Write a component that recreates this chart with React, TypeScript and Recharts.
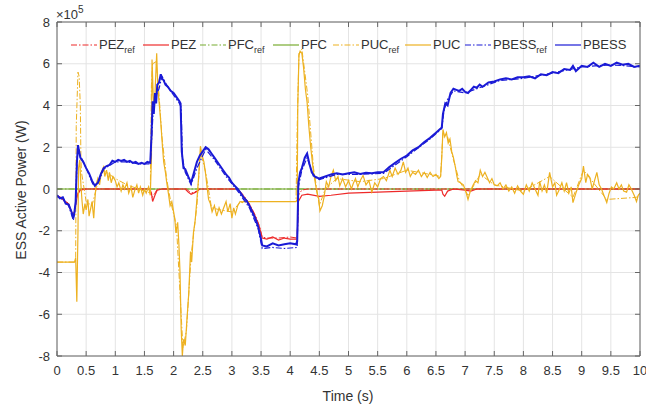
import React from 'react';
import { LineChart, Line, XAxis, YAxis, CartesianGrid } from 'recharts';

type Pt = [number, number];

// time in s, power in 1e5 W
const xTicks = [0, 0.5, 1, 1.5, 2, 2.5, 3, 3.5, 4, 4.5, 5, 5.5, 6, 6.5, 7, 7.5, 8, 8.5, 9, 9.5, 10];
const yTicks = [-8, -6, -4, -2, 0, 2, 4, 6, 8];

const pfcRef: Pt[] = [[0, 0], [10, 0]];
const pfc: Pt[] = [[0, 0], [10, 0]];

const pezRef: Pt[] = [
  [0, -0.3], [0.1, -0.45], [0.2, -0.7], [0.28, -1.3], [0.32, -0.7], [0.35, -0.2], [0.4, 0], [1.6, 0],
  [1.63, -0.4], [1.68, -0.2], [1.72, 0], [2.22, 0], [2.3, -0.2], [2.4, -0.1], [2.45, 0], [3.1, 0],
  [3.2, -0.3], [3.3, -0.7], [3.4, -1.25], [3.47, -1.75], [3.52, -2.3], [3.6, -2.35], [3.8, -2.35],
  [4.0, -2.3], [4.12, -2.35], [4.14, -0.3], [4.2, -0.05], [4.3, 0], [10, 0],
];

const pez: Pt[] = [
  [0, -0.35], [0.1, -0.5], [0.2, -0.75], [0.28, -1.35], [0.32, -0.8], [0.35, -0.3], [0.4, -0.05], [0.5, 0],
  [1.58, 0], [1.62, -0.2], [1.64, -0.6], [1.68, -0.3], [1.72, -0.05], [1.8, 0], [2.2, 0], [2.25, -0.15],
  [2.3, -0.25], [2.38, -0.15], [2.45, 0], [3.1, 0], [3.2, -0.35], [3.3, -0.75], [3.4, -1.3], [3.47, -1.8],
  [3.52, -2.35], [3.6, -2.4], [3.7, -2.3], [3.8, -2.45], [3.9, -2.35], [4.0, -2.4], [4.12, -2.4],
  [4.14, -0.6], [4.2, -0.3], [4.3, -0.25], [4.5, -0.35], [4.7, -0.3], [5.0, -0.2], [5.5, -0.15],
  [6.0, -0.1], [6.5, -0.05], [6.6, -0.05], [6.62, -0.25], [6.65, -0.35], [6.7, -0.1], [6.8, 0],
  [7.0, -0.05], [7.1, -0.1], [7.2, 0], [10, 0],
];

const pucRef: Pt[] = [
  [0, -3.5], [0.32, -3.5], [0.33, 3.0], [0.36, 5.6], [0.38, 5.4], [0.4, 4.0], [0.41, 1.5], [0.42, 0.8],
  [0.5, -0.6], [0.6, -0.8], [0.7, 0.3], [0.8, 0.9], [1.0, 0.5], [1.2, 0.2], [1.4, 0.0], [1.6, -0.2],
  [1.62, 5.0], [1.64, 6.0], [1.7, 6.1], [1.75, 4.5], [1.8, 2.5], [1.88, 0.5], [1.95, -0.6], [2.05, -1.8],
  [2.12, -5.5], [2.16, -7.6], [2.22, -6.8], [2.3, -3.2], [2.4, -0.8], [2.46, 1.8], [2.55, 0.8],
  [2.65, -0.9], [2.8, -1.0], [3.0, -1.1], [3.15, -0.6], [4.1, -0.6], [4.12, 3.0], [4.15, 6.5],
  [4.2, 6.7], [4.3, 4.5], [4.4, 1.0], [4.5, -0.8], [4.6, 0.0], [4.8, 0.5], [5.2, 0.35], [5.6, 0.5],
  [6.0, 0.9], [6.4, 0.7], [6.58, 0.6], [6.62, 2.7], [6.7, 2.5], [6.8, 1.4], [6.9, 0.4], [7.05, -0.3],
  [7.26, 0.7], [7.5, 0.2], [8.0, -0.1], [8.45, 0.6], [8.85, -0.4], [9.03, 0.9], [9.43, -0.5],
  [9.94, -0.4], [10, -0.2],
];

const puc: Pt[] = [
  [0, -3.5], [0.3, -3.5], [0.32, -3.3], [0.34, -5.4], [0.36, -2.0], [0.37, 1.0], [0.39, 1.4], [0.41, 0.2],
  [0.43, -0.6], [0.45, -1.2], [0.48, -0.7], [0.5, -1.0], [0.53, -0.5], [0.55, -1.3], [0.58, -0.9],
  [0.6, -0.6], [0.63, -1.4], [0.65, -0.5], [0.67, 0.2], [0.7, 0.5], [0.73, 0.2], [0.76, 0.8], [0.8, 1.05],
  [0.82, 0.6], [0.85, 0.9], [0.88, 0.4], [0.9, 0.8], [0.93, 0.3], [0.96, 0.6], [1.0, 0.4], [1.03, 0.1],
  [1.06, 0.3], [1.1, -0.1], [1.13, 0.2], [1.16, 0.0], [1.2, 0.3], [1.23, -0.2], [1.27, 0.1], [1.3, -0.4],
  [1.33, -0.1], [1.37, 0.2], [1.4, -0.2], [1.43, 0.1], [1.47, -0.3], [1.5, 0.0], [1.53, -0.2],
  [1.57, 0.1], [1.6, -0.3], [1.62, 1.5], [1.63, 6.2], [1.65, 4.5], [1.67, 3.8], [1.69, 5.2], [1.71, 6.5],
  [1.73, 4.8], [1.75, 4.2], [1.78, 3.2], [1.81, 2.0], [1.83, 1.3], [1.86, 0.8], [1.88, 0.35],
  [1.91, -0.2], [1.94, -0.8], [1.97, -0.6], [2.0, -1.1], [2.02, -1.4], [2.04, -2.1], [2.07, -1.6],
  [2.09, -2.6], [2.11, -4.0], [2.13, -6.7], [2.15, -8.0], [2.17, -7.2], [2.2, -7.5], [2.23, -6.2],
  [2.26, -5.0], [2.29, -3.0], [2.31, -3.5], [2.34, -2.1], [2.37, -1.5], [2.4, -0.5], [2.43, 0.6],
  [2.46, 2.05], [2.49, 1.6], [2.52, 1.3], [2.55, 0.7], [2.57, 0.2], [2.6, -0.5], [2.63, -0.7],
  [2.66, -1.1], [2.7, -0.8], [2.74, -1.3], [2.78, -0.9], [2.82, -1.2], [2.86, -0.9], [2.9, -0.6],
  [2.93, -1.1], [2.97, -0.7], [3.0, -1.4], [3.03, -0.9], [3.06, -1.2], [3.1, -0.8], [3.14, -0.6],
  [3.18, -0.65], [3.2, -0.6], [4.1, -0.6], [4.12, -0.5], [4.13, 4.0], [4.15, 6.4], [4.17, 6.6],
  [4.2, 6.5], [4.23, 5.8], [4.26, 4.8], [4.29, 4.15], [4.32, 3.0], [4.35, 2.05], [4.38, 1.3], [4.4, 0.8],
  [4.43, 0.3], [4.46, -0.2], [4.49, -0.5], [4.51, -1.05], [4.55, -0.8], [4.58, -0.4], [4.62, 0.35],
  [4.66, 0.1], [4.7, 0.6], [4.74, 0.9], [4.78, 0.4], [4.82, 0.6], [4.85, 0.15], [4.9, 0.5], [4.95, 0.1],
  [5.0, 0.4], [5.05, 0.0], [5.08, 0.25], [5.12, 0.5], [5.16, 0.1], [5.2, 0.4], [5.25, 0.65], [5.3, 0.2],
  [5.35, 0.4], [5.4, -0.15], [5.45, 0.3], [5.5, 0.1], [5.55, 0.5], [5.6, 0.6], [5.65, 0.4], [5.71, 0.9],
  [5.75, 0.6], [5.8, 1.0], [5.85, 0.7], [5.9, 0.9], [5.94, 1.3], [5.98, 0.8], [6.02, 1.0], [6.06, 0.6],
  [6.1, 0.8], [6.15, 0.7], [6.2, 0.9], [6.25, 0.6], [6.3, 0.8], [6.35, 0.55], [6.4, 0.8], [6.45, 0.6],
  [6.5, 0.7], [6.55, 0.5], [6.58, 0.6], [6.6, 1.5], [6.62, 2.85], [6.65, 2.5], [6.68, 2.7], [6.71, 2.2],
  [6.74, 2.4], [6.77, 1.8], [6.8, 1.5], [6.83, 1.1], [6.86, 0.6], [6.88, 0.35], [6.92, 0.3], [6.97, 0.2],
  [7.01, -0.1], [7.05, -0.5], [7.09, -0.1], [7.14, 0.2], [7.18, 0.4], [7.22, 0.3], [7.26, 0.9],
  [7.3, 0.6], [7.34, 0.8], [7.38, 0.55], [7.42, 0.3], [7.46, 0.5], [7.5, 0.2], [7.55, 0.15], [7.6, 0.3],
  [7.65, 0.0], [7.7, 0.2], [7.75, -0.1], [7.8, 0.1], [7.85, -0.2], [7.9, 0.15], [7.95, -0.1],
  [8.0, -0.25], [8.05, 0.2], [8.1, -0.1], [8.15, 0.3], [8.2, 0.0], [8.25, -0.3], [8.28, 0.35],
  [8.32, -0.1], [8.36, 0.2], [8.4, -0.2], [8.45, 0.8], [8.5, 0.1], [8.54, 0.3], [8.57, -0.3], [8.62, 0.0],
  [8.66, 0.3], [8.7, -0.1], [8.74, 0.3], [8.78, -0.2], [8.82, 0.1], [8.85, -0.65], [8.9, -0.2],
  [8.95, 0.2], [9.0, 0.5], [9.03, 1.1], [9.07, 0.3], [9.1, 0.7], [9.14, 0.55], [9.18, 0.0], [9.22, 0.4],
  [9.26, 0.8], [9.3, 0.2], [9.34, 0.0], [9.38, -0.3], [9.43, -0.65], [9.47, -0.2], [9.51, 0.1],
  [9.55, 0.0], [9.6, 0.3], [9.64, 0.0], [9.68, 0.2], [9.72, -0.1], [9.77, -0.15], [9.81, 0.2],
  [9.85, 0.0], [9.9, -0.3], [9.94, -0.6], [9.97, -0.3], [10, -0.2],
];

const pbessRef: Pt[] = [
  [0, -0.35], [0.1, -0.5], [0.2, -0.8], [0.28, -1.5], [0.32, -0.8], [0.34, 1.0], [0.36, 2.0], [0.4, 1.6],
  [0.5, 1.0], [0.62, 0.2], [0.7, 0.25], [0.8, 0.95], [1.0, 1.3], [1.2, 1.3], [1.4, 1.2], [1.6, 1.2],
  [1.62, 2.2], [1.65, 3.8], [1.7, 4.5], [1.75, 4.8], [1.8, 5.4], [1.9, 4.9], [2.0, 4.5], [2.1, 4.1],
  [2.13, 3.9], [2.15, 1.5], [2.2, 0.8], [2.3, 0.2], [2.4, 1.0], [2.55, 1.9], [2.7, 1.4], [2.9, 0.6],
  [3.1, -0.1], [3.3, -0.9], [3.45, -1.9], [3.52, -2.85], [3.7, -2.8], [3.9, -2.85], [4.12, -2.8],
  [4.14, 0.1], [4.2, 0.9], [4.29, 1.5], [4.4, 0.6], [4.5, 0.45], [4.8, 0.7], [5.2, 0.7], [5.6, 0.75],
  [6.0, 1.55], [6.4, 2.4], [6.6, 2.9], [6.64, 3.8], [6.7, 4.3], [6.8, 4.7], [7.0, 4.6], [7.3, 4.9],
  [7.6, 5.2], [8.0, 5.3], [8.5, 5.55], [9.0, 5.85], [9.5, 5.95], [10, 5.85],
];

const pbess: Pt[] = [
  [0, -0.3], [0.05, -0.45], [0.1, -0.4], [0.15, -0.7], [0.2, -0.75], [0.25, -1.1], [0.28, -1.4],
  [0.3, -1.1], [0.32, -0.6], [0.34, 1.2], [0.36, 2.1], [0.38, 1.8], [0.4, 1.5], [0.45, 1.3], [0.5, 1.0],
  [0.55, 0.75], [0.6, 0.4], [0.65, 0.15], [0.7, 0.3], [0.75, 0.7], [0.8, 1.0], [0.85, 1.1], [0.9, 1.15],
  [0.95, 1.35], [1.0, 1.3], [1.05, 1.4], [1.1, 1.35], [1.15, 1.4], [1.2, 1.3], [1.25, 1.35], [1.3, 1.25],
  [1.35, 1.3], [1.4, 1.2], [1.45, 1.25], [1.5, 1.2], [1.55, 1.3], [1.6, 1.25], [1.62, 2.5], [1.64, 4.2],
  [1.66, 3.6], [1.68, 4.6], [1.7, 4.1], [1.72, 5.0], [1.75, 5.1], [1.78, 5.5], [1.8, 5.3], [1.83, 5.2],
  [1.86, 5.0], [1.9, 4.9], [1.95, 4.7], [2.0, 4.6], [2.05, 4.4], [2.1, 4.2], [2.12, 4.1], [2.14, 1.8],
  [2.17, 1.0], [2.2, 0.95], [2.25, 0.6], [2.3, 0.3], [2.35, 0.8], [2.4, 1.3], [2.45, 1.6], [2.5, 1.8],
  [2.55, 2.0], [2.6, 1.9], [2.65, 1.7], [2.7, 1.5], [2.75, 1.3], [2.8, 1.1], [2.85, 0.9], [2.9, 0.7],
  [2.95, 0.55], [3.0, 0.3], [3.05, 0.15], [3.1, 0.0], [3.15, -0.2], [3.2, -0.4], [3.25, -0.55],
  [3.3, -0.8], [3.35, -1.1], [3.4, -1.4], [3.45, -1.8], [3.5, -2.4], [3.52, -2.7], [3.6, -2.75],
  [3.7, -2.6], [3.8, -2.7], [3.9, -2.65], [4.0, -2.6], [4.1, -2.65], [4.12, -2.5], [4.14, 0.3],
  [4.17, 0.8], [4.2, 1.0], [4.25, 1.5], [4.29, 1.7], [4.33, 1.2], [4.37, 0.8], [4.42, 0.6], [4.5, 0.5],
  [4.6, 0.6], [4.7, 0.7], [4.8, 0.75], [4.9, 0.7], [5.0, 0.75], [5.1, 0.8], [5.2, 0.72], [5.3, 0.78],
  [5.4, 0.75], [5.5, 0.8], [5.6, 0.8], [5.7, 1.05], [5.8, 1.25], [5.9, 1.45], [6.0, 1.6], [6.1, 1.85],
  [6.2, 2.0], [6.3, 2.25], [6.4, 2.45], [6.5, 2.7], [6.6, 2.95], [6.62, 3.6], [6.66, 4.1], [6.7, 4.0],
  [6.75, 4.6], [6.8, 4.8], [6.85, 4.75], [6.9, 4.7], [6.95, 4.8], [7.0, 4.65], [7.05, 4.6], [7.1, 4.75],
  [7.15, 4.9], [7.2, 4.85], [7.25, 5.0], [7.3, 4.9], [7.4, 5.1], [7.5, 5.15], [7.6, 5.25], [7.7, 5.3],
  [7.8, 5.25], [7.9, 5.35], [8.0, 5.35], [8.1, 5.4], [8.2, 5.3], [8.3, 5.5], [8.4, 5.45], [8.5, 5.6],
  [8.6, 5.55], [8.7, 5.75], [8.8, 5.7], [8.85, 5.9], [8.9, 5.65], [9.0, 5.9], [9.1, 5.85], [9.2, 6.05],
  [9.3, 5.85], [9.4, 6.0], [9.5, 5.9], [9.6, 6.05], [9.7, 5.95], [9.8, 6.0], [9.9, 5.85], [10, 5.9],
];

const RED = '#ee2a2a';
const GREEN = '#77ac30';
const ORANGE = '#edb120';
const BLUE = '#1a1ad6';
const AXIS = '#666';
const TEXT = '#333';
const FONT = '"Liberation Sans", Arial, Helvetica, sans-serif';
const DASHDOT = '6 2 1.5 2';

const rows = (pts: Pt[]) => pts.map(([t, v]) => ({ t, v }));

const series = [
  { key: 'pfcRef', name: 'PFC', sub: 'ref', pts: pfcRef, color: GREEN, dash: DASHDOT, w: 1 },
  { key: 'pfc', name: 'PFC', sub: '', pts: pfc, color: GREEN, dash: undefined, w: 1 },
  { key: 'pezRef', name: 'PEZ', sub: 'ref', pts: pezRef, color: RED, dash: DASHDOT, w: 1 },
  { key: 'pez', name: 'PEZ', sub: '', pts: pez, color: RED, dash: undefined, w: 1.2 },
  { key: 'pucRef', name: 'PUC', sub: 'ref', pts: pucRef, color: ORANGE, dash: DASHDOT, w: 1 },
  { key: 'puc', name: 'PUC', sub: '', pts: puc, color: ORANGE, dash: undefined, w: 1.2 },
  { key: 'pbessRef', name: 'PBESS', sub: 'ref', pts: pbessRef, color: BLUE, dash: DASHDOT, w: 1.2 },
  { key: 'pbess', name: 'PBESS', sub: '', pts: pbess, color: BLUE, dash: undefined, w: 2 },
];

// legend order as in the figure, with left positions of the line samples
const legendOrder = ['pezRef', 'pez', 'pfcRef', 'pfc', 'pucRef', 'puc', 'pbessRef', 'pbess'];
const legendLeft = [71, 143, 200, 273, 333, 405, 465, 555];

const BottomTick = (props: any) => {
  const { x, y, payload } = props;
  return (
    <g>
      <line x1={x} x2={x} y1={y - 9} y2={y - 14} stroke={AXIS} />
      <text x={x} y={y} dy="0.75em" textAnchor="middle" fill={TEXT} fontSize={13} fontFamily={FONT}>
        {payload.value}
      </text>
    </g>
  );
};

const LeftTick = (props: any) => {
  const { x, y, payload } = props;
  return (
    <g>
      <line x1={x + 7} x2={x + 12} y1={y} y2={y} stroke={AXIS} />
      <text x={x} y={y} dy="0.35em" textAnchor="end" fill={TEXT} fontSize={13} fontFamily={FONT}>
        {payload.value}
      </text>
    </g>
  );
};

const TopTick = (props: any) => <line x1={props.x} x2={props.x} y1={props.y} y2={props.y + 5} stroke={AXIS} />;
const RightTick = (props: any) => <line x1={props.x - 5} x2={props.x} y1={props.y} y2={props.y} stroke={AXIS} />;

export default function App() {
  return (
    <div style={{ position: 'absolute', left: 0, top: 0, width: 646, height: 407, background: '#fff' }}>
      <LineChart width={646} height={407} margin={{ top: 0, right: 0, bottom: 0, left: 0 }}>
        <CartesianGrid stroke="#e4e4e4" />
        <XAxis
          dataKey="t"
          type="number"
          domain={[0, 10]}
          ticks={xTicks}
          interval={0}
          allowDataOverflow
          height={51}
          tickSize={0}
          tickMargin={9}
          tickLine={false}
          axisLine={{ stroke: AXIS }}
          tick={<BottomTick />}
        />
        <XAxis
          xAxisId="top"
          orientation="top"
          dataKey="t"
          type="number"
          domain={[0, 10]}
          ticks={xTicks}
          interval={0}
          allowDataOverflow
          height={22}
          tickSize={0}
          tickMargin={0}
          tickLine={false}
          axisLine={{ stroke: AXIS }}
          tick={<TopTick />}
        />
        <YAxis
          type="number"
          domain={[-8, 8]}
          ticks={yTicks}
          interval={0}
          allowDataOverflow
          width={57}
          tickSize={0}
          tickMargin={7}
          tickLine={false}
          axisLine={{ stroke: AXIS }}
          tick={<LeftTick />}
        />
        <YAxis
          yAxisId="right"
          orientation="right"
          type="number"
          domain={[-8, 8]}
          ticks={yTicks}
          interval={0}
          allowDataOverflow
          width={6}
          tickSize={0}
          tickMargin={0}
          tickLine={false}
          axisLine={{ stroke: AXIS }}
          tick={<RightTick />}
        />
        {series.map((s) => (
          <Line
            key={s.key}
            data={rows(s.pts)}
            dataKey="v"
            type="linear"
            stroke={s.color}
            strokeWidth={s.w}
            strokeDasharray={s.dash}
            dot={false}
            activeDot={false}
            isAnimationActive={false}
          />
        ))}
      </LineChart>
      <svg
        width={646}
        height={407}
        style={{ position: 'absolute', left: 0, top: 0, pointerEvents: 'none' }}
        fontFamily={FONT}
      >
        <text x={56} y={19} fontSize={13} fill={TEXT}>
          ×10<tspan dy={-6} fontSize={10}>5</tspan>
        </text>
        <text x={348} y={401} fontSize={14} fill={TEXT} textAnchor="middle">Time (s)</text>
        <text x={26} y={190} fontSize={14} fill={TEXT} textAnchor="middle" transform="rotate(-90 26 190)">
          ESS Active Power (W)
        </text>
        {legendOrder.map((k, i) => {
          const s = series.find((d) => d.key === k)!;
          const x0 = legendLeft[i];
          return (
            <g key={k}>
              <line x1={x0} x2={x0 + 26} y1={45} y2={45} stroke={s.color} strokeWidth={1.2} strokeDasharray={s.dash} />
              <text x={x0 + 28} y={49} fontSize={13} fill={TEXT}>
                {s.name}
                {s.sub ? <tspan dy={4} fontSize={9}>{s.sub}</tspan> : null}
              </text>
            </g>
          );
        })}
      </svg>
    </div>
  );
}
